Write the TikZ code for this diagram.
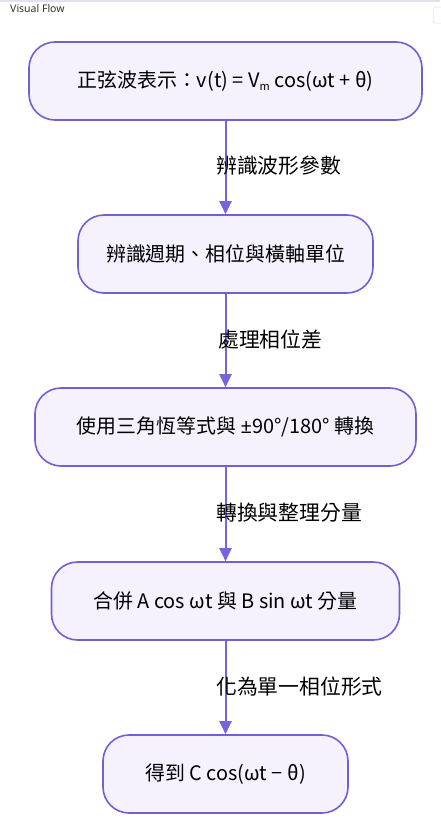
\documentclass[tikz,border=0pt]{standalone}
\usepackage{fontspec}
\setmainfont{Noto Sans CJK TC}
\newfontfamily\titlefont{Noto Sans}
\newfontfamily\latinfont{Noto Sans}
\usetikzlibrary{arrows.meta}
\definecolor{nodeborder}{RGB}{115,95,210}
\definecolor{nodefill}{RGB}{245,242,254}
\definecolor{edgecol}{RGB}{120,98,222}
\definecolor{topline}{RGB}{226,226,236}
\definecolor{titlecol}{RGB}{51,51,51}
\tikzset{
  flowbox/.style={draw=nodeborder, fill=nodefill, line width=1.6pt, rounded corners=26pt,
    minimum height=78pt, inner sep=0pt, font=\fontsize{19.9}{24}\selectfont, text=black},
  flowedge/.style={draw=edgecol, line width=2pt, -{Triangle[width=12pt,length=13pt]}},
  edgelabel/.style={anchor=west, inner sep=0pt, font=\fontsize{20.8}{24}\selectfont, text=black}
}
\begin{document}
\begin{tikzpicture}[x=1pt,y=-1pt]
\useasboundingbox (0,0) rectangle (440,827);
\fill[white] (0,0) rectangle (440,827);
\fill[topline] (0,0) rectangle (440,1.6);
\node[anchor=west, inner sep=0pt, font=\titlefont\fontsize{10.5}{12}\selectfont, text=titlecol] (title) at (10,8.5) {Visual Flow};
\draw[draw=topline, fill=white, rounded corners=3pt, line width=0.5pt] (433,7) rectangle (446,23);

\node[flowbox, minimum width=393pt] (n1) at (225.5,81) {正弦波表示：v(t) = V\raisebox{-0.25ex}{\fontsize{11}{12}\selectfont m} cos(ωt + θ)};
\node[flowbox, minimum width=295pt] (n2) at (225.5,254) {辨識週期、相位與橫軸單位};
\node[flowbox, minimum width=381pt] (n3) at (225.5,427) {使用三角恆等式與 {\latinfont ±}90°/180° 轉換};
\node[flowbox, minimum width=348pt] (n4) at (225.5,601) {合併 A cos ωt 與 B sin ωt 分量};
\node[flowbox, minimum width=245pt] (n5) at (225.5,774) {得到 C cos(ωt − θ)};

\draw[flowedge] (n1.south) -- (n2.north);
\draw[flowedge] (n2.south) -- (n3.north);
\draw[flowedge] (n3.south) -- (n4.north);
\draw[flowedge] (n4.south) -- (n5.north);

\node[edgelabel] (l1) at (216,166) {辨識波形參數};
\node[edgelabel] (l2) at (218,340) {處理相位差};
\node[edgelabel] (l3) at (216,513) {轉換與整理分量};
\node[edgelabel] (l4) at (216,687) {化為單一相位形式};
\end{tikzpicture}
\end{document}
